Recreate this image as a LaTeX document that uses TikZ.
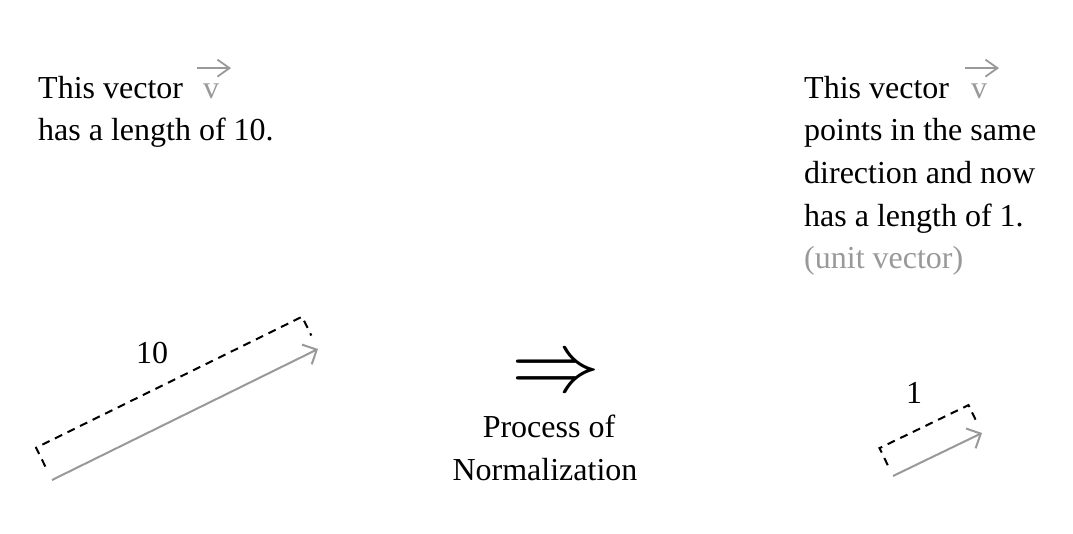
\documentclass[tikz,border=0pt]{standalone}
\usepackage{fontspec}
\setmainfont{Liberation Serif}
\usetikzlibrary{arrows.meta,calc}
\definecolor{vgray}{HTML}{999999}
\begin{document}
\begin{tikzpicture}[x=1pt,y=-1pt,
  txt/.style={font=\fontsize{32}{42.5}\selectfont, inner sep=0pt, align=left, anchor=base west},
  ctxt/.style={font=\fontsize{32}{42.5}\selectfont, inner sep=0pt, align=center, anchor=base},
  vsym/.style={font=\fontsize{32}{42.5}\selectfont, inner sep=0pt, text=vgray, anchor=base},
  vec/.style={draw=vgray, line width=2pt, -{Straight Barb[length=11pt,width=22pt]}},
  overarrow/.style={draw=vgray, line width=1.8pt, -{Straight Barb[length=12pt,width=17pt]}},
  bracket/.style={draw=black, line width=2pt, dash pattern=on 8pt off 6pt}
]
\useasboundingbox (0,0) rectangle (1073,533);

% left text
\node[txt] (lt1) at (38,98) {This vector};
\node[txt] (lt2) at (38,140) {has a length of 10.};
\node[vsym] (v1) at (211,98) {v};
\coordinate (v1a) at ($(v1.north)+(-14,-15)$);
\coordinate (v1b) at ($(v1.north)+(20,-15)$);
\draw[overarrow] (v1a) -- (v1b);

% right text
\node[txt] (rt1) at (804,98) {This vector};
\node[txt] (rt2) at (804,140) {points in the same};
\node[txt] (rt3) at (804,183) {direction and now};
\node[txt] (rt4) at (804,226) {has a length of 1.};
\node[txt, text=vgray] (rt5) at (804,268) {(unit vector)};
\node[vsym] (v2) at (979,98) {v};
\coordinate (v2a) at ($(v2.north)+(-14,-15)$);
\coordinate (v2b) at ($(v2.north)+(20,-15)$);
\draw[overarrow] (v2a) -- (v2b);

% big vector
\coordinate (A) at (52,480);
\coordinate (B) at (318,349);
\draw[vec] (A) -- (B);
\draw[bracket] ($(A)!15pt!90:(B)$) -- ($(A)!36pt!90:(B)$) -- ($(B)!36pt!-90:(A)$) -- ($(B)!15pt!-90:(A)$);
\node[ctxt] (l10) at (152,363) {10};

% small vector
\coordinate (C) at (893,476);
\coordinate (D) at (982,433);
\draw[vec] (C) -- (D);
\draw[bracket] ($(C)!12pt!90:(D)$) -- ($(C)!31pt!90:(D)$) -- ($(D)!31pt!-90:(C)$) -- ($(D)!14pt!-90:(C)$);
\node[ctxt] (l1) at (914,403) {1};

% middle
\node[inner sep=0pt] (imp) at (556,376) {\scalebox{8.9}[8.6]{$\Rightarrow$}};
\node[ctxt] (p1) at (549,437) {Process of};
\node[ctxt] (p2) at (545,480) {Normalization};
\end{tikzpicture}
\end{document}
